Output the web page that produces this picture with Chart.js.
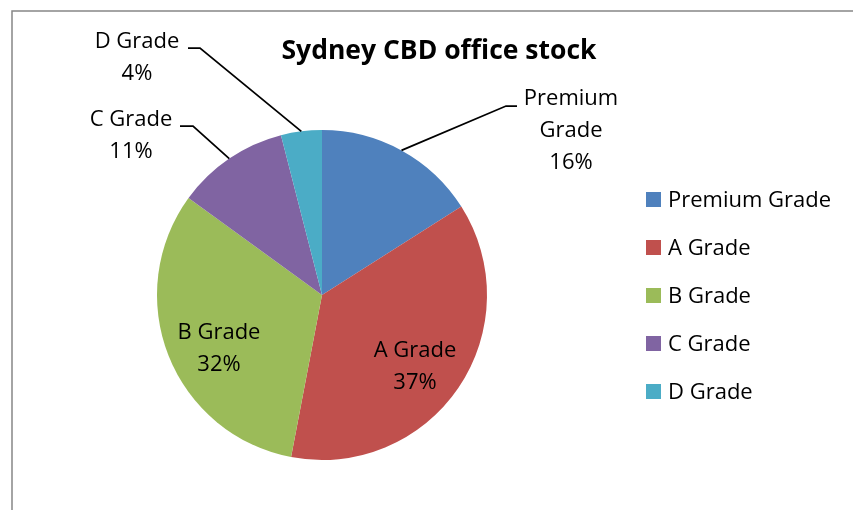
<!DOCTYPE html>
<html>
<head>
<meta charset="utf-8">
<script src="https://cdn.jsdelivr.net/npm/chart.js@4.4.0/dist/chart.umd.min.js"></script>
<style>
  html, body { margin: 0; padding: 0; background: #fff; }
  canvas { display: block; }
</style>
</head>
<body>
<canvas id="myChart" width="853" height="510"></canvas>
<script>
const categories = ['Premium Grade', 'A Grade', 'B Grade', 'C Grade', 'D Grade']
const shares = [16, 37, 32, 11, 4]
const colors = ['#4F81BD', '#C0504D', '#9BBB59', '#8064A2', '#4BACC6']
const chartTitle = 'Sydney CBD office stock'

const FONT = '"Open Sans", "Noto Sans", sans-serif'

// where each data label goes: inside the slice or outside with a leader line
const labelPlaces = [
    { lines: ['Premium', 'Grade'], x: 571, y: 99, elbow: [506, 106], end: [517, 106] },
    { lines: ['A Grade'], inside: true, x: 415, y: 351 },
    { lines: ['B Grade'], inside: true, x: 219, y: 333 },
    { lines: ['C Grade'], x: 131, y: 120, elbow: [193, 126], end: [180, 126] },
    { lines: ['D Grade'], x: 137, y: 42, elbow: [200, 48], end: [188, 48] }
]

const excelLook = {
    id: 'excelLook',
    afterDraw(chart) {
        const ctx = chart.ctx
        const arcs = chart.getDatasetMeta(0).data
        ctx.save()

        // chart frame (right and bottom edges fall outside the picture)
        ctx.strokeStyle = '#878787'
        ctx.lineWidth = 1.5
        ctx.strokeRect(12, 11, 900, 600)

        // title
        ctx.fillStyle = '#000'
        ctx.textAlign = 'center'
        ctx.textBaseline = 'middle'
        ctx.font = 'bold 26.5px ' + FONT
        ctx.fillText(chartTitle, 439, 51)

        // data labels + leader lines
        ctx.font = '22px ' + FONT
        arcs.forEach((arc, i) => {
            const p = labelPlaces[i]
            const mid = (arc.startAngle + arc.endAngle) / 2
            const lines = p.lines.concat([shares[i] + '%'])
            lines.forEach((t, k) => ctx.fillText(t, p.x, p.y + k * 32))
            if (!p.inside) {
                ctx.beginPath()
                ctx.moveTo(arc.x + Math.cos(mid) * arc.outerRadius, arc.y + Math.sin(mid) * arc.outerRadius)
                ctx.lineTo(p.elbow[0], p.elbow[1])
                ctx.lineTo(p.end[0], p.end[1])
                ctx.strokeStyle = '#000'
                ctx.lineWidth = 1.75
                ctx.stroke()
            }
        })

        // legend
        ctx.textAlign = 'left'
        categories.forEach((c, i) => {
            const y = 199 + i * 48
            ctx.fillStyle = colors[i]
            ctx.fillRect(646, y - 7, 15, 15)
            ctx.fillStyle = '#000'
            ctx.fillText(c, 668, y + 2)
        })
        ctx.restore()
    }
}

const data = {
    labels: categories,
    datasets: [{
        label: chartTitle,
        backgroundColor: colors,
        borderWidth: 0,
        data: shares
    }]
}

const config = {
    type: 'pie',
    data: data,
    options: {
        responsive: false,
        animation: false,
        layout: { padding: { left: 157, right: 366, top: 130, bottom: 50 } },
        plugins: {
            legend: { display: false },
            tooltip: { enabled: false }
        }
    },
    plugins: [excelLook]
}

let myChart = new Chart(document.getElementById('myChart'), config)
</script>
</body>
</html>
